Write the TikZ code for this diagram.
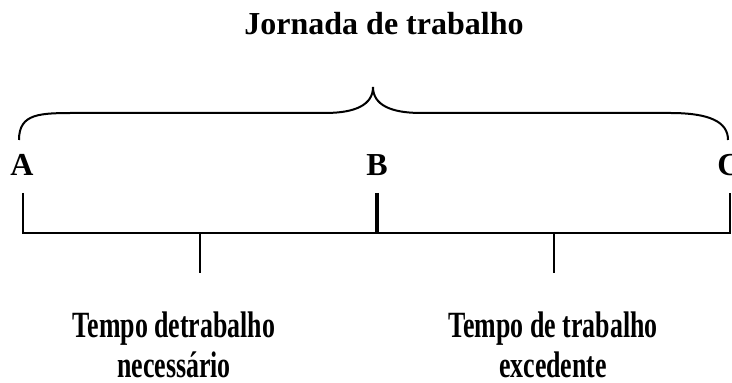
\documentclass[tikz,border=0pt]{standalone}
\usepackage{fontspec}
\setmainfont{Liberation Serif}

\begin{document}
\begin{tikzpicture}[x=0.5pt,y=-0.5pt,line width=1pt]

      \useasboundingbox (0,0) rectangle (732,383);

      \node (title) at (384,35) [anchor=base,font=\fontsize{16}{19}\selectfont\bfseries] {Jornada de trabalho};

      \begin{scope}[every node/.style={anchor=base,font=\fontsize{16}{19}\selectfont\bfseries}]
        \node (A)  at (22,176)  {A};
        \node (B)  at (377,176) {B};
        \node (C)  at (729,176) {C};
      \end{scope}

      \begin{scope}[every node/.style={anchor=base,align=center,inner sep=0pt,xscale=0.7,transform shape,font=\fontsize{18.5}{20}\selectfont\bfseries}]
        \node (nec)  at (174,378)  {Tempo detrabalho\\necessário};
        \node (exc)  at (553,378)  {Tempo de trabalho\\excedente};
      \end{scope}

      \coordinate (a0) at (19,140);
      \coordinate (top) at (373,87);
      \coordinate (c0) at (728,140);
      \coordinate (a1) at (23,193);
      \coordinate (a2) at (23,233);
      \coordinate (b1) at (377,193);
      \coordinate (b2) at (377,233);
      \coordinate (c1) at (730,193);
      \coordinate (c2) at (730,233);
      \coordinate (n1) at (200,233);
      \coordinate (n2) at (200,273);
      \coordinate (e1) at (554,233);
      \coordinate (e2) at (554,273);

      % chave
      \draw (a0) .. controls (19,113) and (40,113) .. (77,113) -- (325,113)
                 .. controls (355,113) and (373,105) .. (top)
                 .. controls (373,105) and (391,113) .. (421,113) -- (670,113)
                 .. controls (710,113) and (728,122) .. (c0);

      \draw (a1) -- (a2) -- (c2) -- (c1);
      \draw[line width=1.7pt] (b1) -- (b2);
      \draw (n1) -- (n2);
      \draw (e1) -- (e2);

    \end{tikzpicture}
\end{document}
